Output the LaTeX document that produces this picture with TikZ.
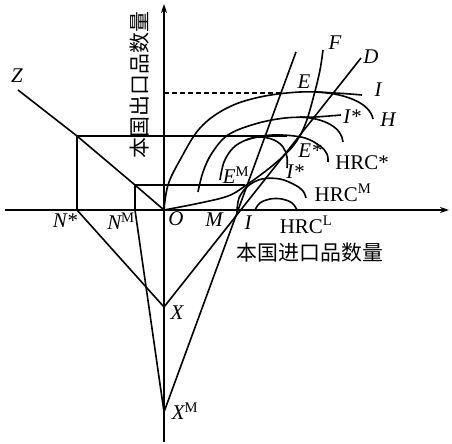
\documentclass[tikz,border=0pt]{standalone}
\usepackage{fontspec}
\setmainfont{Liberation Serif}
\newfontfamily\cjk{Noto Sans CJK SC}
\usetikzlibrary{arrows.meta}
\begin{document}
\begin{tikzpicture}[x=1bp,y=-1bp,line width=1.6bp,line join=round,
  lbl/.style={inner sep=0pt,font=\fontsize{21}{21}\selectfont\itshape},
  hrc/.style={inner sep=0pt,font=\fontsize{21}{21}\selectfont},
  zh/.style={inner sep=0pt,font=\fontsize{21}{21}\selectfont\cjk},
  axis/.style={-{Stealth[length=9bp,width=6bp]}},
  dashline/.style={dash pattern=on 5bp off 3bp},
  crv/.style={smooth,tension=0.6}]
\useasboundingbox (0,0) rectangle (452,444);
% key points
\coordinate (xl) at (5,210);
\coordinate (xr) at (449,210);
\coordinate (yb) at (164,442);
\coordinate (yt) at (164,4);
\coordinate (O) at (164,210);
\coordinate (Xa) at (164,307);
\coordinate (XM) at (164,412);
\coordinate (Ns) at (77,210);
\coordinate (NMp) at (135,210);
\coordinate (Zp) at (18,90);
\coordinate (Ks) at (77,136);
\coordinate (KM) at (135,185);
\coordinate (D) at (361,58);
\coordinate (Gt) at (296,52);
\coordinate (F) at (323,50);
\coordinate (E) at (281,93);
\coordinate (Ya) at (164,93);
\coordinate (EM) at (245,185);
\coordinate (Es) at (287,136);
% axes
\draw[axis] (xl) -- (xr);
\draw[axis] (yb) -- (yt);
% left construction
\draw (Zp) -- (Ks) -- (KM) -- (O);
\draw (Ks) -- (Ns);
\draw (KM) -- (NMp);
\draw (Ks) -- (Es);
\draw (KM) -- (EM);
\draw[dashline] (Ya) -- (E);
\draw (Ns) -- (Xa);
\draw (NMp) -- (XM);
\draw (Xa) -- (D);
\draw (XM) -- (Gt);
% offer curve O-F through E^M
\draw plot[crv] coordinates {(164,210) (200,203) (228,196) (245,186) (272,166) (293,146) (305,125) (314,95) (320,70) (323,50)};
% curve O-I
\draw plot[crv] coordinates {(164,210) (168,185) (180,160) (200,128) (227,108) (260,97) (300,92) (335,93) (362,95)};
% arc to H
\draw (315,92) .. controls (345,93) and (370,103) .. (373,119);
% curve I* (upper)
\draw plot[crv] coordinates {(198,192) (203,172) (212,153) (228,135) (255,124) (285,118) (315,117) (341,115)};
\draw (300,117) .. controls (325,118) and (342,128) .. (343,142);
% curve I* (lower)
\draw plot[crv] coordinates {(220,180) (224,162) (233,148) (246,140) (260,137) (274,140) (283,147) (287,157) (287,168)};
% HRC*
\draw plot[crv] coordinates {(246,140) (262,136) (282,135) (305,138) (320,146) (327,154) (328,162)};
% HRC^M
\draw plot[crv] coordinates {(237,212) (239,198) (248,186) (262,179) (280,179) (295,185) (303,191) (306,198)};
% HRC^L
\draw plot[crv] coordinates {(255,210) (260,203) (270,199) (282,199) (292,203) (297,210)};
% labels
\node[lbl] (lZ) at (17,76) {Z};
\node[lbl] (lNs) at (65,221) {N*};
\node[lbl] (lNM) at (121,221) {N\textsuperscript{\upshape M}};
\node[lbl] (lO) at (176,219) {O};
\node[lbl] (lM) at (214,220) {M};
\node[lbl] (lI) at (248,223) {I};
\node[lbl] (lX) at (177,313) {X};
\node[lbl] (lXM) at (185,411) {X\textsuperscript{\upshape M}};
\node[lbl] (lEM) at (236,175) {E\textsuperscript{\upshape M}};
\node[lbl] (lE) at (304,82) {E};
\node[lbl] (lF) at (335,43) {F};
\node[lbl] (lD) at (371,57) {D};
\node[lbl] (lIt) at (378,90) {I};
\node[lbl] (lIs) at (352,117) {I*};
\node[lbl] (lH) at (388,120) {H};
\node[lbl] (lEs) at (310,151) {E*};
\node[lbl] (lIs2) at (295,172) {I*};
\node[hrc] (hs) at (362,163) {HRC*};
\node[hrc] (hm) at (343,193) {HRC\textsuperscript{M}};
\node[hrc] (hl) at (306,225) {HRC\textsuperscript{L}};
\node[zh] (zx) at (310,253) {本国进口品数量};
\node[zh,rotate=90] (zy) at (140,85) {本国出口品数量};
\end{tikzpicture}
\end{document}
